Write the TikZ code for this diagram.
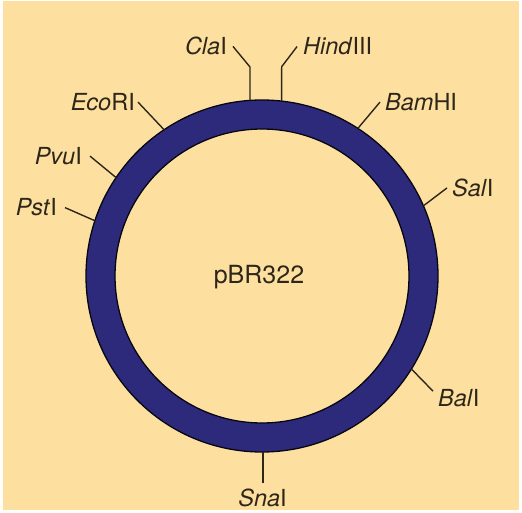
\documentclass[tikz,border=0pt]{standalone}
\usepackage{fontspec}
\setmainfont{TeX Gyre Heros}
\usetikzlibrary{calc}
\definecolor{bgpeach}{RGB}{253,224,160}
\definecolor{ringblue}{RGB}{45,42,124}
\definecolor{inkdark}{RGB}{45,38,25}
\begin{document}
\begin{tikzpicture}[x=1pt,y=-1pt,
  site/.style={inner sep=0pt, text=inkdark, font=\fontsize{23.5}{28}\selectfont},
  leader/.style={draw=inkdark, line width=1.4pt, line join=round},
  ringstyle/.style={fill=ringblue, draw=black!85!ringblue, line width=1.3pt, even odd rule}]
\useasboundingbox (0,0) rectangle (522,513);
\fill[white!96!bgpeach] (0,0) rectangle (522,513);
\fill[bgpeach] (3,1) rectangle (519,510);
\coordinate (c) at (262,276);
\path[ringstyle] (c) circle (176pt) (c) circle (147pt);
\node[site, font=\fontsize{25}{30}\selectfont] (name) at (259,277) {pBR322};
% circle points
\coordinate (pCla) at ($(c)+(93.9:176pt)$);
\coordinate (pHind) at ($(c)+(83.6:176pt)$);
\coordinate (pEco) at ($(c)+(123.8:176pt)$);
\coordinate (pBam) at ($(c)+(57:176pt)$);
\coordinate (pPvu) at ($(c)+(146:176pt)$);
\coordinate (pPst) at ($(c)+(161.7:176pt)$);
\coordinate (pSal) at ($(c)+(23.5:176pt)$);
\coordinate (pBal) at ($(c)+(-31.9:176pt)$);
\coordinate (pSna) at ($(c)+(-89.7:176pt)$);
\coordinate (kCla) at (250,67);
\coordinate (kHind) at (281.7,66.7);
% labels
\node[site, anchor=base east] (cla) at (227,55) {\textit{Cla}I};
\node[site, anchor=base west] (hind) at (303,55) {\textit{Hind}III};
\node[site, anchor=base east] (eco) at (135,110.5) {\textit{Eco}RI};
\node[site, anchor=base west] (bam) at (385,110.5) {\textit{Bam}HI};
\node[site, anchor=base east] (pvu) at (82,164.5) {\textit{Pvu}I};
\node[site, anchor=base east] (pst) at (57,216) {\textit{Pst}I};
\node[site, anchor=base west] (sal) at (452,196.5) {\textit{Sal}I};
\node[site, anchor=base west] (bal) at (438,406.5) {\textit{Bal}I};
\node[site, anchor=base] (sna) at (262.5,506.5) {\textit{Sna}I};
% leaders
\draw[leader] ([xshift=6pt]cla.east) -- (kCla) -- (pCla);
\draw[leader] ([xshift=-6pt]hind.west) -- (kHind) -- (pHind);
\draw[leader] ([xshift=3pt]eco.east) -- (pEco);
\draw[leader] ([xshift=-5pt]bam.west) -- (pBam);
\draw[leader] ([xshift=8pt]pvu.east) -- (pPvu);
\draw[leader] ([xshift=8pt]pst.east) -- (pPst);
\draw[leader] ([xshift=-5pt]sal.west) -- (pSal);
\draw[leader] ([xshift=-5pt,yshift=-2pt]bal.north west) -- (pBal);
\draw[leader] (pSna) -- ([yshift=6pt]sna.north -| pSna);
\end{tikzpicture}
\end{document}
